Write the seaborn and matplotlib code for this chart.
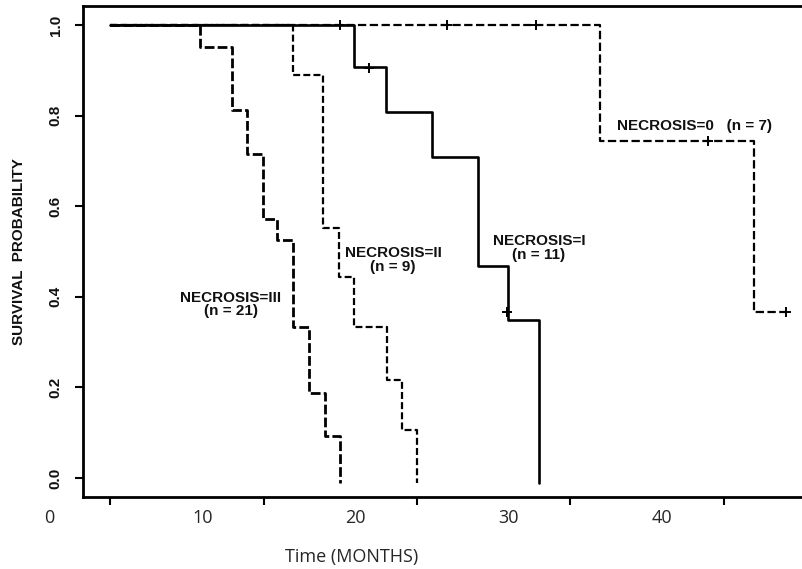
import matplotlib
matplotlib.use("Agg")
import matplotlib.pyplot as plt
import seaborn as sns
import pandas as pd
from matplotlib.transforms import blended_transform_factory

# ---------------- data ----------------
t_III = [4.0, 9.85, 11.94, 12.92, 13.96, 14.87, 15.92, 16.96, 18.0, 18.98]
s_III = [1.0, 0.951, 0.812, 0.715, 0.572, 0.525, 0.333, 0.188, 0.093, -0.01]

t_II = [4.0, 15.92, 17.87, 18.92, 19.9, 22.05, 23.03, 24.0]
s_II = [1.0, 0.889, 0.552, 0.444, 0.333, 0.216, 0.106, -0.01]

t_I = [4.0, 19.9, 21.98, 24.98, 27.98, 29.94, 31.96]
s_I = [1.0, 0.907, 0.808, 0.709, 0.468, 0.349, -0.01]

t_0 = [4.0, 35.94, 45.99, 48.08]
s_0 = [1.0, 0.744, 0.366, 0.366]

cens_I_t = [18.98, 20.9, 29.9]
cens_I_s = [1.0, 0.905, 0.366]
cens_0_t = [25.96, 31.8, 43.0, 48.08]
cens_0_s = [1.0, 1.0, 0.744, 0.366]

y_ticks = [0.0, 0.2, 0.4, 0.6, 0.8, 1.0]
y_tick_labels = ["0.0", "0.2", "0.4", "0.6", "0.8", "1.0"]
x_tick_marks = [4, 14, 24, 34, 44]
x_label_pos = [0, 10, 20, 30, 40]
x_label_text = ["0", "10", "20", "30", "40"]

labels = {
    "III": ("NECROSIS=III\n(n = 21)", 11.87, 0.383),
    "II": ("NECROSIS=II\n(n = 9)", 22.44, 0.481),
    "I": ("NECROSIS=I\n(n = 11)", 31.96, 0.508),
    "0": ("NECROSIS=0   (n = 7)", 42.1, 0.777),
}

# ---------------- style ----------------
sns.set_style("ticks")
plt.rcParams["font.family"] = ["Liberation Sans", "DejaVu Sans"]
plt.rcParams["lines.scale_dashes"] = False

fig = plt.figure(figsize=(8.02, 5.69), dpi=100)
ax = fig.add_axes([83 / 802, 1 - 497 / 569, 1 - 83 / 802, (497 - 6) / 569])

def curve(t, s, ls, lw):
    df = pd.DataFrame({"t": t, "s": s})
    sns.lineplot(data=df, x="t", y="s", ax=ax, color="black", lw=lw,
                 linestyle=ls, drawstyle="steps-post", estimator=None,
                 legend=False)

curve(t_0, s_0, (0, (6, 2.5)), 1.6)
curve(t_III, s_III, (0, (7, 2.3)), 2.0)
curve(t_II, s_II, (0, (5, 2.3)), 1.6)
curve(t_I, s_I, "-", 1.9)

sns.scatterplot(x=cens_I_t + cens_0_t, y=cens_I_s + cens_0_s, ax=ax,
                marker="+", s=45, color="black", linewidth=1.4, legend=False)

ax.set_xlim(2.22, 49.12)
ax.set_ylim(-0.042, 1.042)

for k, (txt, x, y) in labels.items():
    ax.text(x, y, txt, ha="center", va="center", fontsize=11,
            fontweight="bold", linespacing=0.95, color="#111111")

# ticks
ax.set_yticks(y_ticks)
ax.set_yticklabels(y_tick_labels, rotation=90, va="center",
                   fontsize=11, fontweight="bold", color="#111111")
ax.set_xticks(x_tick_marks)
ax.set_xticklabels([])
ax.tick_params(axis="both", direction="out", length=6, width=1.5,
               color="black")
ax.tick_params(axis="y", pad=8.5)

trans = blended_transform_factory(ax.transData, ax.transAxes)
for xp, lab in zip(x_label_pos, x_label_text):
    ax.text(xp, -0.043, lab, transform=trans, ha="center", va="center",
            fontsize=13, family=["Open Sans", "DejaVu Sans"], clip_on=False)

ax.set_xlabel("Time (MONTHS)", fontsize=13, family=["Open Sans", "DejaVu Sans"],
              va="center")
ax.xaxis.set_label_coords((352 - 83) / 719, -(557 - 497) / 491)
ax.set_ylabel("SURVIVAL  PROBABILITY", fontsize=11, fontweight="bold",
              va="center", color="#111111")
ax.yaxis.set_label_coords((19 - 83) / 719, 0.5)

for side in ["left", "top", "bottom"]:
    ax.spines[side].set_visible(True)
    ax.spines[side].set_linewidth(2.0)
    ax.spines[side].set_color("black")
ax.spines["right"].set_visible(False)

fig.savefig("out.png", dpi=100)
